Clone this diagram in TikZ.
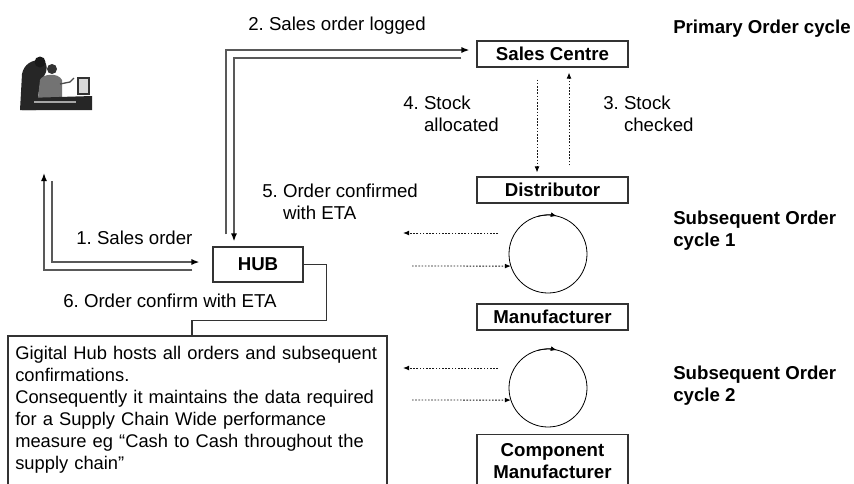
\documentclass[tikz,border=0pt]{standalone}
\usepackage{fontspec}
\setmainfont{Liberation Sans}
\usetikzlibrary{arrows.meta}

\begin{document}
\frenchspacing
\begin{tikzpicture}[x=0.75pt,y=0.75pt,yscale=-1,xscale=1,
  blk/.style={draw=black!80,line width=0.8pt,font=\bfseries,inner sep=0.75pt,align=center,minimum width=113.25pt,minimum height=19.5pt},
  lbl/.style={inner sep=0.75pt,align=left},
  pipe/.style={draw=black!65,line width=1.1pt},
  edge/.style={draw=black!80,line width=0.8pt},
  dots/.style={draw=black!90,line width=0.7pt,dash pattern=on 1.2pt off 1.2pt},
  tipA/.style={-{Latex[length=6pt,width=4.5pt,color=black]}},
  tipB/.style={-{Latex[length=4.5pt,width=3.6pt,color=black]}},
  loop/.style={circle,draw=black,line width=0.6pt,minimum size=58.5pt,inner sep=0pt,outer sep=0pt}]
\fontsize{14}{16.5}\selectfont
\useasboundingbox (0,0) rectangle (854,483);

%Shape: clip art, people at a computer
\fill[black!85] (20,110) -- (22,74) .. controls (24,64) and (32,60) .. (40,60) .. controls (46,60) and (48,66) .. (46,72) -- (40,84) -- (36,110) -- cycle ;
\fill[black!90] (40,62) circle[radius=5.5] ;
\fill[black!55] (40,80) .. controls (42,74) and (58,72) .. (62,80) -- (62,98) -- (38,98) -- cycle ;
\fill[black!80] (52,69) circle[radius=5] ;
\draw[black!70,line width=1pt] (60,84) -- (70,82) -- (74,78) ;
\filldraw[fill=black!15,draw=black!80,line width=0.8pt] (78,78) rectangle (89,94) ;
\fill[black!85] (22,110) -- (26,98) -- (92,96) -- (92,110) -- cycle ;
\fill[black!35] (34,101) rectangle (76,103) ;

% Boxes
\node[blk] (sales) at (552.5,54) {Sales Centre};
\node[blk] (dist) at (552.5,190) {Distributor};
\node[blk] (manu) at (552.5,317) {Manufacturer};
\node[blk,minimum height=39.75pt,anchor=north] (comp) at (552.5,434) {Component\\Manufacturer};
\node[blk,minimum width=67.5pt,minimum height=26.25pt] (hub) at (258,264.5) {HUB};
\node[loop] (cyc1) at (548,254) {};
\node[loop] (cyc2) at (548,388) {};

% Text Node
\node[lbl] (t2) at (337,26) {2. Sales order logged};
% Text Node
\node[lbl,anchor=west,font=\bfseries] (prim) at (672,29) {Primary Order cycle};
% Text Node
\node[lbl,anchor=west] (t4) at (402,113.5) {4. Stock\\\phantom{4. }allocated};
% Text Node
\node[lbl,anchor=west] (t3) at (602,113.5) {3. Stock\\\phantom{3. }checked};
% Text Node
\node[lbl,anchor=west] (t5) at (261,202) {5. Order confirmed\\\phantom{5. }with ETA};
% Text Node
\node[lbl,anchor=west] (t1) at (75,238) {1. Sales order};
% Text Node
\node[lbl,anchor=west] (t6) at (62,301) {6. Order confirm with ETA};
% Text Node
\node[lbl,anchor=west,font=\bfseries] (sub1) at (672,231) {Subsequent Order\\cycle 1};
% Text Node
\node[lbl,anchor=west,font=\bfseries] (sub2) at (672,386) {Subsequent Order\\cycle 2};
% Text Node
\node[lbl,anchor=north west,text width=300pt,inner xsep=5.25pt,inner ysep=7.5pt,font=\fontsize{13.75}{16.5}\selectfont] (note) at (8,336) {\hyphenpenalty=10000 Gigital Hub hosts all orders and subsequent\\confirmations.\\Consequently it maintains the data required\\for a Supply Chain Wide performance\\measure eg “Cash to Cash throughout the\\supply chain”};
\draw[edge] (note.north west) ++(0,200) -- (note.north west) -- ++(379,0) -- ++(0,200) ;

% Free ends
\coordinate (up) at (44,173);
\coordinate (dn) at (52,181);
\coordinate (o1a) at (498,233);
\coordinate (o1b) at (403,233);
\coordinate (i1) at (412,266);
\coordinate (o2a) at (498,368);
\coordinate (o2b) at (403,368);
\coordinate (i2) at (412,400);

%Double lines
\draw[pipe,tipA,shorten <=9pt,shorten >=5.25pt] ([xshift=-24pt]hub.north) |- ([yshift=-3pt]sales.west) ;
\draw[pipe,tipA,shorten <=11.25pt,shorten >=3.75pt] ([yshift=3pt]sales.west) -| ([xshift=-18pt]hub.north) ;
\draw[pipe,tipA,shorten <=15pt] ([yshift=4.125pt]hub.west) -| (up) ;
\draw[pipe,tipA,shorten >=9.75pt] (dn) |- ([yshift=-1.875pt]hub.west) ;

%Straight Lines
\draw[edge] (hub.east) -- ++(23,0) -- ++(0,56) -| ([xshift=-3.4pt]note.north west -| 196.5,0) ;

%Dotted arrows
\draw[dots,tipB,shorten <=9pt,shorten >=3pt] ([xshift=-11.6pt]sales.south) -- ([xshift=-11.6pt]dist.north) ;
\draw[dots,tipB,shorten <=8.25pt,shorten >=3.75pt] ([xshift=12.4pt]dist.north) -- ([xshift=12.4pt]sales.south) ;
\draw[dots,tipB] (o1a) -- (o1b) ;
\draw[dots,tipB] (i1) -- (cyc1.198) ;
\draw[dots,tipB] (o2a) -- (o2b) ;
\draw[dots,tipB] (i2) -- (cyc2.198) ;

%Arcs on the cycles
\draw[line width=0.6pt,tipB] (cyc1.105) arc[start angle=-105,end angle=-77,radius=39] ;
\draw[line width=0.6pt,tipB] (cyc2.105) arc[start angle=-105,end angle=-77,radius=39] ;

\end{tikzpicture}
\end{document}
